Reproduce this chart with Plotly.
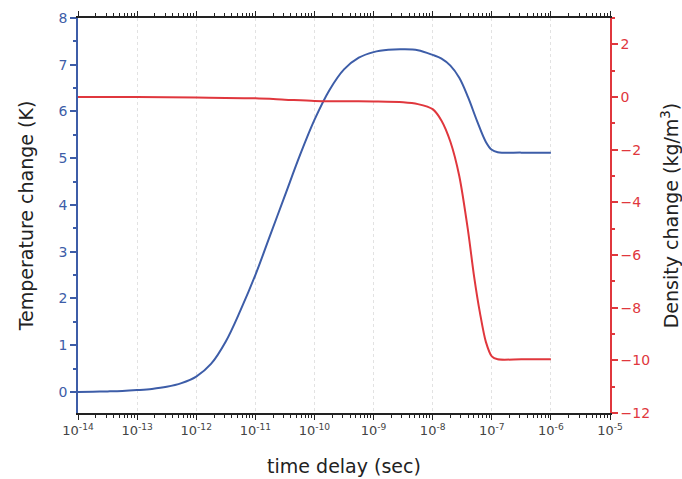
import plotly.graph_objects as go

# Data
t_exp = [-14, -13.75, -13.5, -13.25, -13, -12.75, -12.5, -12.25, -12, -11.75, -11.5, -11.25, -11, -10.75,
         -10.5, -10.25, -10, -9.75, -9.5, -9.25, -9, -8.75, -8.5, -8.25, -8, -7.85, -7.7, -7.55, -7.4,
         -7.25, -7.1, -7, -6.9, -6.5, -6]
temp = [0.0, 0.005, 0.012, 0.022, 0.04, 0.065, 0.11, 0.19, 0.33, 0.6, 1.08, 1.75, 2.5, 3.35,
        4.2, 5.05, 5.82, 6.45, 6.9, 7.15, 7.27, 7.32, 7.33, 7.31, 7.21, 7.13, 6.98, 6.72, 6.3,
        5.8, 5.35, 5.18, 5.13, 5.12, 5.12]

d_exp = [-14, -13, -12, -11, -10.5, -10, -9.5, -9, -8.5, -8.25, -8, -7.85, -7.7, -7.55, -7.4, -7.3,
         -7.2, -7.1, -7, -6.9, -6.5, -6]
dens = [0.0, 0.0, -0.02, -0.05, -0.1, -0.15, -0.16, -0.17, -0.2, -0.27, -0.46, -0.9, -1.7, -3.0, -5.1, -6.8,
        -8.2, -9.3, -9.85, -9.96, -9.96, -9.96]

x_tickvals_exp = list(range(-14, -4))
x_ticktext = [f"10<sup>{e}</sup>" for e in x_tickvals_exp]

blue = "#3d5da8"
red = "#e0373d"

t_x = [10.0 ** e for e in t_exp]
d_x = [10.0 ** e for e in d_exp]

fig = go.Figure()
fig.add_trace(go.Scatter(x=t_x, y=temp, mode="lines", line=dict(color=blue, width=2, shape="spline", smoothing=1.0),
                         showlegend=False))
fig.add_trace(go.Scatter(x=d_x, y=dens, mode="lines", line=dict(color=red, width=2, shape="spline", smoothing=0.8),
                         yaxis="y2", showlegend=False))

minor_vals = [m * 10.0 ** e for e in range(-14, -5) for m in range(2, 10)]

fig.update_layout(
    width=682, height=479,
    margin=dict(l=78, r=72, t=18, b=66),
    plot_bgcolor="white", paper_bgcolor="white",
    font=dict(family="DejaVu Sans", color="#333333"),
    xaxis=dict(
        type="log", range=[-14, -5], automargin=False,
        tickvals=[10.0 ** e for e in x_tickvals_exp], ticktext=x_ticktext,
        ticks="outside", ticklen=5, tickcolor="#222", tickwidth=1,
        showline=True, linecolor="#222", linewidth=1.5, mirror="ticks",
        showgrid=True, gridcolor="#e2e2e2", griddash="dot", gridwidth=1,
        minor=dict(tickvals=minor_vals, ticks="outside", ticklen=3, tickcolor="#222", showgrid=False),
        tickfont=dict(size=13, color="#444"),
        title=dict(text="time delay (sec)", font=dict(size=19, color="#222"), standoff=22),
        zeroline=False,
    ),
    yaxis=dict(
        range=[-0.45, 8], tickvals=list(range(0, 9)), automargin=False,
        ticks="outside", ticklen=6, tickcolor=blue, tickwidth=1.5,
        showline=True, linecolor=blue, linewidth=1.5,
        showgrid=False, zeroline=False,
        minor=dict(dtick=0.5, ticks="outside", ticklen=3, tickcolor=blue),
        tickfont=dict(size=14, color=blue),
        title=dict(text="Temperature change (K)", font=dict(size=19, color="#222"), standoff=20),
    ),
    yaxis2=dict(
        overlaying="y", side="right", automargin=False,
        range=[-12, 3], tickvals=list(range(-12, 3, 2)),
        ticks="outside", ticklen=6, tickcolor=red, tickwidth=1.5,
        showline=True, linecolor=red, linewidth=1.5,
        showgrid=False, zeroline=False,
        minor=dict(dtick=1, ticks="outside", ticklen=3, tickcolor=red),
        tickfont=dict(size=14, color=red),
        title=dict(text="Density change (kg/m<sup>3</sup>)", font=dict(size=19, color="#222"), standoff=16),
    ),
)

fig.write_html("out.html")
